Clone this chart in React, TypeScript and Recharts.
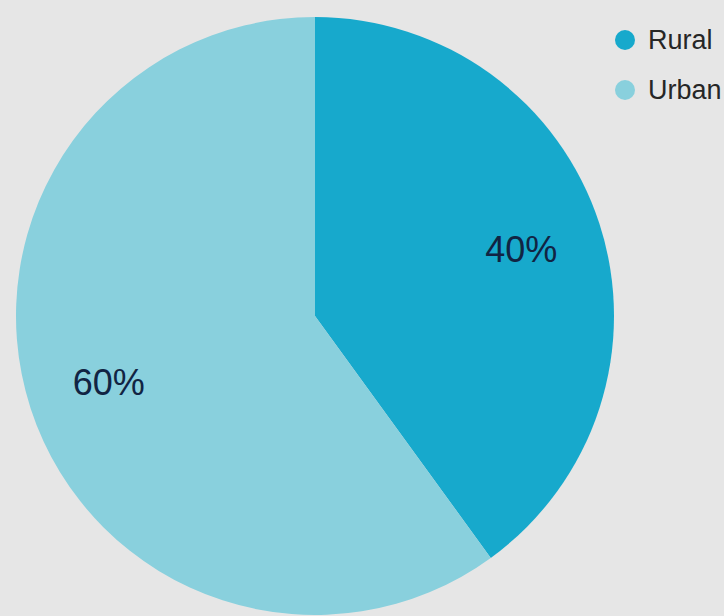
import { PieChart, Pie, Cell, Legend } from 'recharts';

// Share of population by area
const categories = ['Rural', 'Urban'];
const shares = [40, 60];
const colors = ['#17a9cc', '#89d0dd'];

const data = categories.map((name, i) => ({ name, value: shares[i] }));

const RADIAN = Math.PI / 180;

const renderLabel = ({ cx, cy, midAngle, outerRadius, value }: any) => {
  const r = outerRadius * 0.725;
  const x = cx + r * Math.cos(-midAngle * RADIAN);
  const y = cy + r * Math.sin(-midAngle * RADIAN);
  return (
    <text
      x={x}
      y={y}
      fill="#112443"
      textAnchor="middle"
      dominantBaseline="central"
      style={{ fontSize: '36px', fontFamily: 'Liberation Sans, Arial, sans-serif' }}
    >
      {value}%
    </text>
  );
};

const renderLegend = () => (
  <div>
    {categories.map((name, i) => (
      <div key={name} style={{ display: 'flex', alignItems: 'center', height: 50 }}>
        <span
          style={{
            width: 20,
            height: 20,
            borderRadius: '50%',
            background: colors[i],
            display: 'inline-block',
            marginRight: 13,
          }}
        />
        <span style={{ fontSize: '27px', color: '#262626', fontFamily: 'Liberation Sans, Arial, sans-serif', whiteSpace: 'nowrap' }}>
          {name}
        </span>
      </div>
    ))}
  </div>
);

export default function App() {
  return (
    <div style={{ position: 'absolute', left: 0, top: 0, width: 724, height: 616, background: '#e6e6e6', overflow: 'hidden' }}>
      <PieChart width={724} height={616}>
        <Pie
          data={data}
          dataKey="value"
          nameKey="name"
          cx={310}
          cy={311}
          outerRadius={299}
          startAngle={90}
          endAngle={-270}
          stroke="none"
          label={renderLabel}
          labelLine={false}
          isAnimationActive={false}
        >
          {data.map((d, i) => (
            <Cell key={d.name} fill={colors[i]} />
          ))}
        </Pie>
        <Legend
          content={renderLegend}
          wrapperStyle={{ position: 'absolute', left: 615, top: 15, width: 120 }}
        />
      </PieChart>
    </div>
  );
}
